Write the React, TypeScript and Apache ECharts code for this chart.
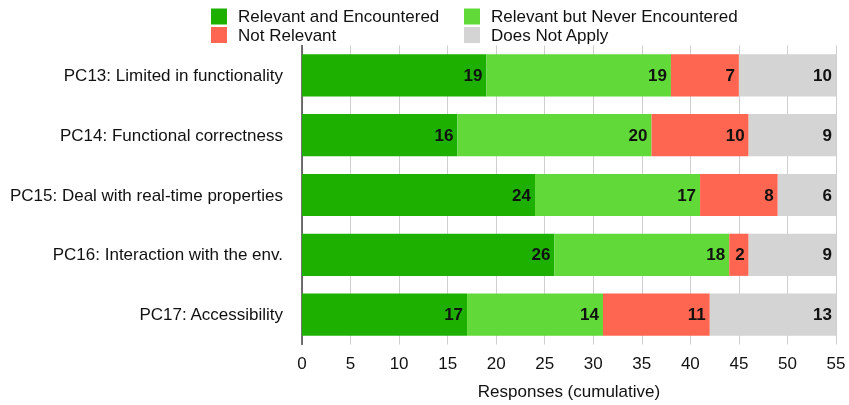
import React, { useEffect, useRef } from "react";
import * as echarts from "echarts";

const categories = [
  "PC13: Limited in functionality",
  "PC14: Functional correctness",
  "PC15: Deal with real-time properties",
  "PC16: Interaction with the env.",
  "PC17: Accessibility",
];
const relevantEncountered = [19, 16, 24, 26, 17];
const relevantNeverEncountered = [19, 20, 17, 18, 14];
const notRelevant = [7, 10, 8, 2, 11];
const doesNotApply = [10, 9, 6, 9, 13];
const seriesNames = [
  "Relevant and Encountered",
  "Relevant but Never Encountered",
  "Not Relevant",
  "Does Not Apply",
];
const colors = ["#1eb000", "#61d938", "#fe6651", "#d4d4d4"];

const FONT = "'Liberation Sans', Arial, Helvetica, sans-serif";

export default function App() {
  const ref = useRef<HTMLDivElement>(null);
  useEffect(() => {
    if (!ref.current) return;
    const chart = echarts.init(ref.current, null, { renderer: "svg" });
    const data = [relevantEncountered, relevantNeverEncountered, notRelevant, doesNotApply];
    const legendCommon = {
      orient: "vertical" as const,
      top: 8,
      itemWidth: 16,
      itemHeight: 16,
      itemGap: 1.5,
      icon: "rect",
      padding: 0,
      textStyle: { fontFamily: FONT, fontSize: 17, color: "#111", padding: [0, 0, 0, 6] },
    };
    chart.setOption({
      animation: false,
      textStyle: { fontFamily: FONT },
      legend: [
        { ...legendCommon, left: 211, data: [seriesNames[0], seriesNames[2]] },
        { ...legendCommon, left: 464, data: [seriesNames[1], seriesNames[3]] },
      ],
      grid: { left: 302, right: 13, top: 45.5, bottom: 60.5, containLabel: false },
      xAxis: {
        type: "value",
        min: 0,
        max: 55,
        interval: 5,
        name: "Responses (cumulative)",
        nameLocation: "middle",
        nameGap: 38,
        nameTextStyle: { fontFamily: FONT, fontSize: 17, color: "#111" },
        axisLine: { show: false },
        axisTick: { show: false },
        axisLabel: { fontFamily: FONT, fontSize: 17, color: "#111", margin: 10 },
        splitLine: { show: true, lineStyle: { color: "#cfcfcf", width: 1 } },
      },
      yAxis: {
        type: "category",
        data: categories,
        inverse: true,
        axisLine: { show: true, lineStyle: { color: "#444", width: 1.5 } },
        axisTick: { show: false },
        axisLabel: { fontFamily: FONT, fontSize: 17, color: "#111", margin: 19 },
        splitLine: { show: false },
      },
      series: seriesNames.map((name, i) => ({
        name,
        type: "bar",
        stack: "total",
        barCategoryGap: "29.5%",
        data: data[i],
        itemStyle: { color: colors[i] },
        label: {
          show: true,
          position: "insideRight",
          distance: 4,
          fontFamily: FONT,
          fontSize: 17,
          fontWeight: "bold",
          color: "#111",
        },
      })),
    });
    return () => chart.dispose();
  }, []);
  return (
    <div
      ref={ref}
      style={{ position: "fixed", left: 0, top: 0, width: 849, height: 405 }}
    />
  );
}
